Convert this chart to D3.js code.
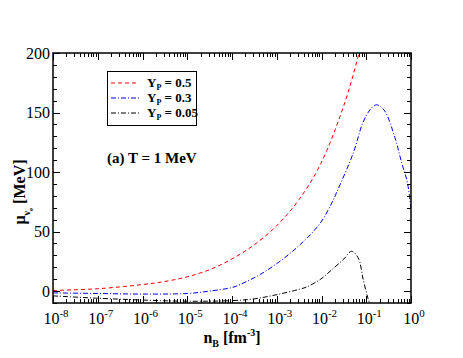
<!DOCTYPE html>
<html><head><meta charset="utf-8">
<script src="https://cdn.jsdelivr.net/npm/d3@7"></script>
<style>body{margin:0;background:#fff}svg{display:block}</style>
</head><body><svg id="c" width="463" height="358" font-family="'Liberation Serif', 'Times New Roman', Times, 'DejaVu Serif', serif"></svg>
<script>
// data: log10(n_B) vs mu_nu_e [MeV]
const redLogN = [-8,-7,-6,-5.5,-5,-4.5,-4,-3.5,-3,-2.5,-2.03,-1.5,-1.16,-0.9];
const redMu   = [0.5,2,5.5,8.1,12,18,27,39,55,77,106,156,200,240];
const blueLogN = [-8,-7,-6,-5,-4.5,-4,-3.82,-3.37,-2.93,-2.48,-2.03,-1.77,-1.66,-1.29,-1.07,-0.9,-0.77,-0.6,-0.36,-0.21,-0.08,0];
const blueMu   = [-1.5,-2,-2.5,-2,0,3,5.5,14,25,39,57,74,83,116,142,153,156.5,152,129,108,91,69];
const blackLogN = [-8,-7,-6,-5,-4,-3.5,-3,-2.5,-2.33,-2.03,-1.81,-1.5,-1.33,-1.18,-1.07,-0.97,-0.92];
const blackMu   = [-4,-6,-7.5,-8.5,-8,-6.5,-3,1.5,3.5,9.7,16.6,27,33.4,28,10,-5,-11];
const seriesNames = ["0.5","0.3","0.05"];
const yTicks = [0,50,100,150,200];
const xExponents = [-8,-7,-6,-5,-4,-3,-2,-1,0];

const svg = d3.select("#c");
const L=53,R=411,T=53,B=303;
const x = d3.scaleLog().domain([1e-8,1]).range([L,R]);
const y = d3.scaleLinear().domain([-10,200]).range([B,T]);

svg.append("defs").append("clipPath").attr("id","clip").append("rect")
  .attr("x",L).attr("y",T).attr("width",R-L).attr("height",B-T);

const line = d3.line().x(d=>x(Math.pow(10,d[0]))).y(d=>y(d[1])).curve(d3.curveCatmullRom.alpha(0.5));
const series = [
  {n:redLogN,m:redMu,c:"#ff0000",dash:"4,3"},
  {n:blueLogN,m:blueMu,c:"#0000ff",dash:"5,2,1,2"},
  {n:blackLogN,m:blackMu,c:"#000000",dash:"5,2,1,2"}
];
const g = svg.append("g").attr("clip-path","url(#clip)");
series.forEach(s=>{
  g.append("path").datum(s.n.map((v,i)=>[v,s.m[i]]))
   .attr("d",line).attr("fill","none").attr("stroke",s.c)
   .attr("stroke-width",1).attr("stroke-dasharray",s.dash);
});

// axes with inward ticks
const minorX=[];
for(let e=-8;e<0;e++) for(let k=2;k<=9;k++) minorX.push(k*Math.pow(10,e));
const majorX = xExponents.map(e=>Math.pow(10,e));
const minorY=d3.range(-10,201,10).filter(v=>v%50!==0);
const ax = svg.append("g").attr("stroke","#000").attr("stroke-width",1);
function tick(x1,y1,x2,y2){ax.append("line").attr("x1",x1).attr("y1",y1).attr("x2",x2).attr("y2",y2);}
majorX.forEach(v=>{const p=Math.round(x(v))+0.5; tick(p,B,p,B-7); tick(p,T,p,T+7);});
minorX.forEach(v=>{const p=Math.round(x(v))+0.5; tick(p,B,p,B-4); tick(p,T,p,T+4);});
yTicks.forEach(v=>{const p=Math.round(y(v))+0.5; tick(L,p,L+7,p); tick(R,p,R-7,p);});
minorY.forEach(v=>{const p=Math.round(y(v))+0.5; tick(L,p,L+4,p); tick(R,p,R-4,p);});
svg.append("rect").attr("x",L).attr("y",T).attr("width",R-L).attr("height",B-T)
  .attr("fill","none").attr("stroke","#000").attr("stroke-width",1.5);

// y tick labels
yTicks.forEach(v=>{
  svg.append("text").attr("x",L-3).attr("y",y(v)+5.5).attr("text-anchor","end")
    .attr("font-size",16).text(v);
});
// x tick labels
xExponents.forEach(e=>{
  const t=svg.append("text").attr("x",x(Math.pow(10,e))+3).attr("y",324).attr("text-anchor","middle").attr("font-size",16);
  t.append("tspan").text("10");
  t.append("tspan").attr("font-size",11).attr("dy",-7).text(e);
});

// axis titles
const xt = svg.append("text").attr("x",232).attr("y",343).attr("text-anchor","middle")
  .attr("font-size",16).attr("font-weight","bold");
xt.append("tspan").text("n");
xt.append("tspan").attr("font-size",10).attr("dy",4).text("B");
xt.append("tspan").attr("dy",-4).text(" [fm");
xt.append("tspan").attr("font-size",10).attr("dy",-7).text("-3");
xt.append("tspan").attr("dy",7).text("]");

const yt = svg.append("text").attr("transform","translate(25,192) rotate(-90)").attr("text-anchor","middle")
  .attr("font-size",16).attr("font-weight","bold");
yt.append("tspan").text("μ");
yt.append("tspan").attr("font-size",10).attr("dy",5).text("ν");
yt.append("tspan").attr("font-size",7).attr("dy",3).text("e");
yt.append("tspan").attr("dy",-8).text(" [MeV]");

// legend
svg.append("rect").attr("x",107.5).attr("y",71.5).attr("width",89).attr("height",54)
  .attr("fill","#fff").attr("stroke","#000").attr("stroke-width",1);
const rows=[83,98,113];
series.forEach((s,i)=>{
  svg.append("line").attr("x1",111).attr("x2",139).attr("y1",rows[i]).attr("y2",rows[i])
    .attr("stroke",s.c).attr("stroke-width",1).attr("stroke-dasharray",s.dash);
  const t=svg.append("text").attr("x",147).attr("y",rows[i]+4).attr("font-size",13).attr("font-weight","bold");
  t.append("tspan").text("Y");
  t.append("tspan").attr("font-size",8).attr("dy",3).text("P");
  t.append("tspan").attr("dy",-3).text(" = "+seriesNames[i]);
});
svg.append("text").attr("x",107).attr("y",163).attr("font-size",15).attr("font-weight","bold").text("(a) T = 1 MeV");
</script></body></html>
